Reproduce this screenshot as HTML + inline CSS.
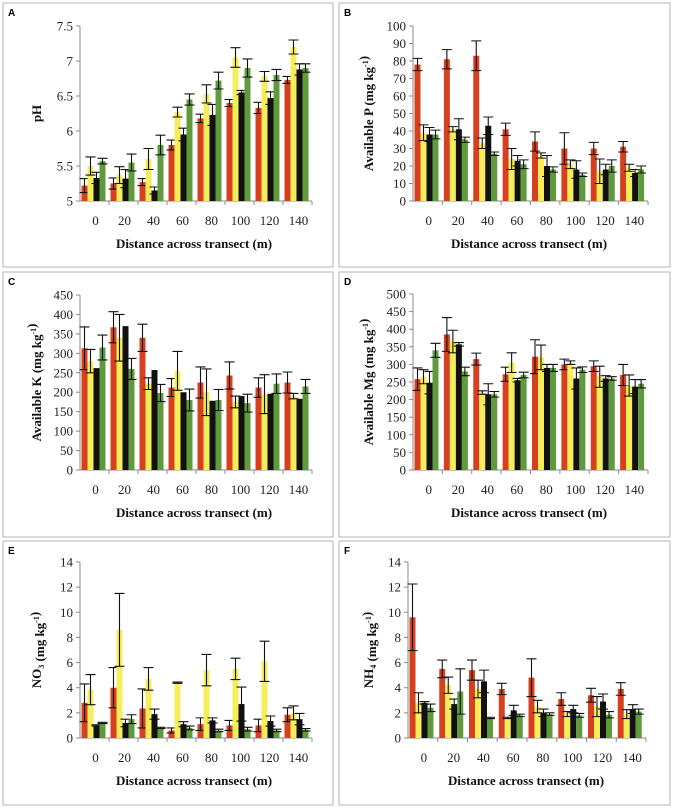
<!DOCTYPE html>
<html><head><meta charset="utf-8"><style>
body{margin:0;background:#fff;}
svg{display:block;font-family:"Liberation Serif",serif;}
</style></head><body>
<svg id="chart" width="673" height="808" viewBox="0 0 673 808" xmlns="http://www.w3.org/2000/svg"></svg>
<script>
const categories = ["0","20","40","60","80","100","120","140"];
// A pH
const phRed = [5.22,5.25,5.27,5.8,6.18,6.4,6.33,6.73];
const phYellow = [5.5,5.37,5.6,6.27,6.53,7.05,6.78,7.2];
const phBlack = [5.33,5.32,5.15,5.95,6.23,6.55,6.47,6.88];
const phGreen = [5.57,5.55,5.8,6.45,6.72,6.9,6.8,6.9];
const phRedErr = [0.1,0.08,0.05,0.07,0.06,0.05,0.08,0.05];
const phYellowErr = [0.13,0.12,0.15,0.07,0.13,0.14,0.07,0.1];
const phBlackErr = [0.08,0.13,0.05,0.09,0.15,0.03,0.09,0.08];
const phGreenErr = [0.04,0.12,0.14,0.08,0.12,0.13,0.08,0.06];
// B Available P
const pRed = [78,81,83,41,34,30,30,31];
const pYellow = [39,41,33,24,26,21,17,19];
const pBlack = [38,41,43,23,20,18,18,16];
const pGreen = [38,35,27,21,18,15,20,18];
const pRedErr = [3.5,5.5,8.5,3.5,5.5,9,3.5,3];
const pYellowErr = [4.5,1.5,3,6,1.5,2.5,7,2];
const pBlackErr = [4,6,5,3,6,5,3,2];
const pGreenErr = [2.5,1.5,1,2.5,1.5,1,3.5,2];
// C Available K
const kRed = [313,367,340,212,225,243,212,225];
const kYellow = [280,340,222,255,200,175,195,190];
const kBlack = [262,370,257,200,178,190,196,183];
const kGreen = [315,260,198,180,180,172,222,215];
const kRedErr = [55,40,35,23,40,35,25,27];
const kYellowErr = [30,60,15,50,60,15,50,7];
const kBlackErr = [0,0,0,0,0,0,0,0];
const kGreenErr = [32,27,22,28,27,23,25,18];
// D Available Mg
const mgRed = [258,385,315,272,322,300,295,270];
const mgYellow = [265,365,220,305,320,305,265,240];
const mgBlack = [248,357,215,255,290,260,260,237];
const mgGreen = [340,280,215,270,290,285,260,245];
const mgRedErr = [32,48,17,20,48,15,15,30];
const mgYellowErr = [20,32,5,28,35,5,30,30];
const mgBlackErr = [32,5,30,5,10,30,8,20];
const mgGreenErr = [20,12,8,8,10,8,5,12];
// E NO3
const no3Red = [2.8,4.0,2.35,0.6,1.1,1.0,1.0,1.85];
const no3Yellow = [3.85,8.6,4.7,4.4,5.4,5.5,6.1,2.0];
const no3Black = [1.0,1.2,1.9,1.1,1.4,2.7,1.35,1.5];
const no3Green = [1.2,1.5,0.8,0.8,0.6,0.7,0.6,0.65];
const no3RedErr = [1.5,1.6,1.55,0.2,0.5,0.4,0.5,0.55];
const no3YellowErr = [1.2,2.9,0.9,0.05,1.25,0.85,1.6,0.55];
const no3BlackErr = [0.05,0.3,0.4,0.2,0.2,1.35,0.4,0.45];
const no3GreenErr = [0.05,0.35,0.05,0.15,0.1,0.15,0.1,0.1];
// F NH4
const nh4Red = [9.6,5.5,5.4,3.9,4.8,3.1,3.4,3.9];
const nh4Yellow = [2.8,4.2,3.9,1.6,2.5,1.9,2.5,1.9];
const nh4Black = [2.8,2.7,4.5,2.2,2.0,2.3,2.9,2.3];
const nh4Green = [2.4,3.7,1.6,1.8,1.9,1.8,1.85,2.1];
const nh4RedErr = [2.65,0.7,0.8,0.45,1.5,0.5,0.55,0.5];
const nh4YellowErr = [0.8,0.65,0.7,0.05,0.5,0.2,0.8,0.35];
const nh4BlackErr = [0.1,0.4,0.9,0.4,0.3,0.3,0.6,0.35];
const nh4GreenErr = [0.3,1.8,0.05,0.1,0.1,0.15,0.25,0.2];

const NS="http://www.w3.org/2000/svg";
const svg=document.getElementById('chart');
const colors=["#d6401e","#f5ee5a","#111111","#5f9b3c"];
const seriesNames=["red","yellow","black","green"];
function mk(tag,attrs,parent){const e=document.createElementNS(NS,tag);for(const k in attrs)e.setAttribute(k,attrs[k]);(parent||svg).appendChild(e);return e;}

const panels=[
 {id:"a",letter:"A",box:[3,3,330,264],ax:80,right:312,top:26,bottom:201,min:5,max:7.5,step:0.5,lx:37,tx:194,
  label:[["pH",""]],vals:[phRed,phYellow,phBlack,phGreen],errs:[phRedErr,phYellowErr,phBlackErr,phGreenErr]},
 {id:"b",letter:"B",box:[339,3,331,264],ax:413,right:648,top:26,bottom:201,min:0,max:100,step:10,lx:369,tx:529,
  label:[["Available P (mg kg",""],["-1","sup"],[")",""]],vals:[pRed,pYellow,pBlack,pGreen],errs:[pRedErr,pYellowErr,pBlackErr,pGreenErr]},
 {id:"c",letter:"C",box:[3,272,330,265],ax:80,right:312,top:295,bottom:470,min:0,max:450,step:50,lx:37,tx:194,
  label:[["Available K (mg kg",""],["-1","sup"],[")",""]],vals:[kRed,kYellow,kBlack,kGreen],errs:[kRedErr,kYellowErr,kBlackErr,kGreenErr]},
 {id:"d",letter:"D",box:[339,272,331,265],ax:413,right:648,top:294,bottom:470,min:0,max:500,step:50,lx:369,tx:529,
  label:[["Available Mg (mg kg",""],["-1","sup"],[")",""]],vals:[mgRed,mgYellow,mgBlack,mgGreen],errs:[mgRedErr,mgYellowErr,mgBlackErr,mgGreenErr]},
 {id:"e",letter:"E",box:[3,541,330,264],ax:80,right:312,top:562,bottom:738,min:0,max:14,step:2,lx:37,tx:194,
  label:[["NO",""],["3","sub"],[" (mg kg",""],["-1","sup"],[")",""]],vals:[no3Red,no3Yellow,no3Black,no3Green],errs:[no3RedErr,no3YellowErr,no3BlackErr,no3GreenErr]},
 {id:"f",letter:"F",box:[339,541,331,264],ax:408,right:646,top:562,bottom:738,min:0,max:14,step:2,lx:369,tx:526,
  label:[["NH",""],["4","sub"],[" (mg kg",""],["-1","sup"],[")",""]],vals:[nh4Red,nh4Yellow,nh4Black,nh4Green],errs:[nh4RedErr,nh4YellowErr,nh4BlackErr,nh4GreenErr]}
];

panels.forEach(p=>{
  const g=mk('g',{});
  
  
  const box=mk('rect',{x:p.box[0],y:p.box[1],width:p.box[2],height:p.box[3],fill:"#fff",stroke:"#b5b5b5","stroke-width":1},g);
  
  
  const lt=mk('text',{x:p.box[0]+5,y:p.box[1]+13,"font-family":"Liberation Sans, sans-serif","font-weight":"bold","font-size":10},g);
  lt.textContent=p.letter;
  
  
  const yS=v=>p.bottom-(v-p.min)/(p.max-p.min)*(p.bottom-p.top);
  const gw=(p.right-p.ax)/categories.length;
  const xS=i=>p.ax+i*gw;
  const ya=mk('line',{x1:p.ax,y1:p.top,x2:p.ax,y2:p.bottom,stroke:"#888","stroke-width":1},g);
  
  
  const n=Math.round((p.max-p.min)/p.step);
  for(let t=0;t<=n;t++){
    const v=p.min+t*p.step;const y=yS(v);
    mk('line',{x1:p.ax-4,y1:y,x2:p.ax,y2:y,stroke:"#888"},g);
    const tx=mk('text',{x:p.ax-7,y:y+4.5,"text-anchor":"end","font-size":13,fill:"#222"},g);
    tx.textContent=String(Math.round(v*10)/10);
    
    
  }
  const xa=mk('line',{x1:p.ax,y1:p.bottom,x2:p.right,y2:p.bottom,stroke:"#888"},g);
  
  
  categories.forEach((c,i)=>{
    mk('line',{x1:xS(i+1),y1:p.bottom,x2:xS(i+1),y2:p.bottom+4,stroke:"#888"},g);
    const tx=mk('text',{x:xS(i)+gw/2+1,y:p.bottom+24,"text-anchor":"middle","font-size":13,fill:"#222"},g);
    tx.textContent=c;
    
    
  });
  const bw=6;
  p.vals.forEach((arr,s)=>{
    arr.forEach((v,i)=>{
      const x=xS(i)+1.5+s*bw;
      const y=yS(v);
      const r=mk('rect',{x:x,y:y,width:bw,height:p.bottom-y,fill:colors[s]},g);
      
      
      const e=p.errs[s][i];
      if(e>0){
        const cx=x+bw/2,y1=yS(v+e),y2=yS(Math.max(p.min,v-e));
        const eb=mk('path',{d:`M${cx},${y1}V${y2}M${cx-5},${y1}H${cx+5}M${cx-5},${y2}H${cx+5}`,stroke:"#111","stroke-width":1.1,fill:"none"},g);
        
        
      }
    });
  });
  const xt=mk('text',{x:p.tx,y:p.bottom+47,"text-anchor":"middle","font-size":13,"font-weight":"bold",fill:"#111"},g);
  xt.textContent="Distance across transect (m)";
  
  
  const cy=(p.top+p.bottom)/2;
  const yt=mk('text',{x:0,y:0,"text-anchor":"middle","font-size":13,"font-weight":"bold",fill:"#111",transform:`translate(${p.lx+4},${cy}) rotate(-90)`},g);
  
  
  p.label.forEach(([t,k])=>{
    const ts=mk('tspan',{},yt);
    if(k==="sup"){ts.setAttribute('font-size','8');ts.setAttribute('dy','-5');}
    else if(k==="sub"){ts.setAttribute('font-size','8');ts.setAttribute('dy','3');}
    ts.textContent=t;
    const after=mk('tspan',{},yt);
    if(k==="sup") after.setAttribute('dy','5');
    if(k==="sub") after.setAttribute('dy','-3');
  });
});
</script>
</body></html>
